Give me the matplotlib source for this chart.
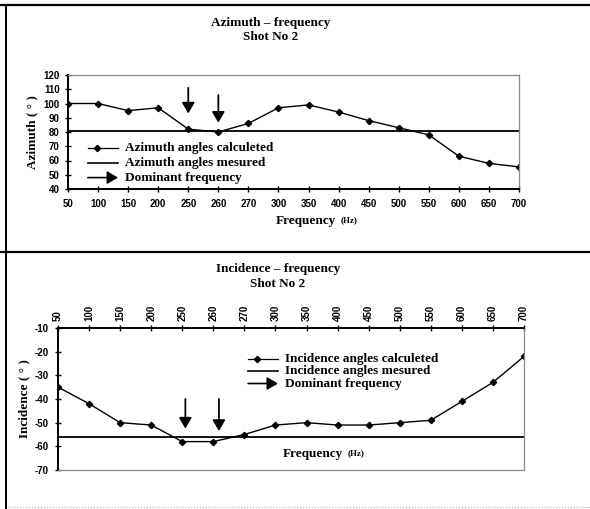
import matplotlib
matplotlib.use("Agg")
import matplotlib.pyplot as plt
from matplotlib.lines import Line2D

plt.rcParams["axes.unicode_minus"] = False

# data
freq_labels = ["50", "100", "150", "200", "250", "260", "270", "300",
               "350", "400", "450", "500", "550", "600", "650", "700"]
azimuth_calc = [100, 100, 95, 97, 82, 80, 86, 97, 99, 94, 88, 83, 78, 63, 58, 55.5]
azimuth_measured = 81
incidence_calc = [-35, -42, -50, -51, -58, -58, -55, -51, -50, -51, -51, -50, -49, -41, -33, -22]
incidence_measured = -56

# dominant frequency arrows (category index, start, tip)
az_arrow_x = [4, 5]
az_arrow_top = [111, 106]
az_arrow_tip = [93, 86.5]
inc_arrow_x = [4.1, 5.18]
inc_arrow_top = [-40, -40]
inc_arrow_tip = [-52.5, -53.5]

SERIF = "Liberation Serif"
SANS = "Liberation Sans"
W, H = 590, 509


def px_box(left, top, right, bottom):
    return [left / W, 1 - bottom / H, (right - left) / W, (bottom - top) / H]


def fig_line(fig, x0, y0, x1, y1, **kw):
    fig.add_artist(Line2D([x0 / W, x1 / W], [1 - y0 / H, 1 - y1 / H],
                          transform=fig.transFigure, **kw))


def fig_text(fig, x, y, s, **kw):
    fig.text(x / W, 1 - y / H, s, family=SERIF, weight="bold", **kw)


def style_axis(ax, gray_sides, black_sides):
    for side in gray_sides:
        ax.spines[side].set_color("#8a8a8a")
        ax.spines[side].set_linewidth(0.9)
    for side in black_sides:
        ax.spines[side].set_color("black")
        ax.spines[side].set_linewidth(1.4)
    for lab in ax.get_xticklabels() + ax.get_yticklabels():
        lab.set_family(SANS)
        lab.set_fontsize(7)
        lab.set_weight("bold")


def draw_arrows(ax, xs, tops, tips):
    for x, y0, y1 in zip(xs, tops, tips):
        ax.annotate("", xy=(x, y1), xytext=(x, y0),
                    arrowprops=dict(arrowstyle="-|>,head_length=0.65,head_width=0.38",
                                    color="black", lw=1.3, shrinkA=0, shrinkB=0))


def draw_legend(ax, x0, x1, ys, labels):
    # calculated: line with marker
    ax.plot([x0, x1], [ys[0], ys[0]], color="black", lw=0.9, transform=ax.transAxes,
            clip_on=False)
    ax.plot([x0 + (x1 - x0) * 0.3], [ys[0]], marker="D", ms=3.2, color="black",
            transform=ax.transAxes, clip_on=False)
    # measured: plain line
    ax.plot([x0, x1], [ys[1], ys[1]], color="black", lw=1.2, transform=ax.transAxes,
            clip_on=False)
    # dominant frequency: arrow
    ax.annotate("", xy=(x1, ys[2]), xytext=(x0, ys[2]), xycoords="axes fraction",
                arrowprops=dict(arrowstyle="-|>,head_length=0.65,head_width=0.38",
                                color="black", lw=1.2, shrinkA=0, shrinkB=0))
    for y, lab in zip(ys, labels):
        ax.text(x1 + 0.015, y, lab, transform=ax.transAxes, family=SERIF,
                weight="bold", fontsize=9.5, va="center", ha="left")


def freq_label(ax, x, y, transform):
    t = ax.text(x, y, "Frequency", transform=transform, family=SERIF,
                weight="bold", fontsize=9.5, va="center", ha="left")
    ax.annotate("(Hz)", xy=(1, 0.2), xycoords=t, xytext=(3, 0),
                textcoords="offset points", family=SERIF, weight="bold",
                fontsize=6.5, va="bottom", ha="left")


pos = list(range(len(freq_labels)))

fig = plt.figure(figsize=(W / 100, H / 100), dpi=100)

# outer frame of the scanned page
fig_line(fig, 0, 5, W, 5, color="black", lw=1.6)
fig_line(fig, 6, 5, 6, H, color="black", lw=1.4)
fig_line(fig, 0, 252, W, 252, color="black", lw=1.6)
fig_line(fig, 8, 507, W, 507, color="#b0b0b0", lw=0.8, ls=":")

# ---- azimuth panel ----
ax1 = fig.add_axes(px_box(68, 75, 519, 189))
ax1.plot(pos, azimuth_calc, color="black", lw=1.0, marker="D", ms=3.2)
ax1.axhline(azimuth_measured, color="black", lw=1.3)
draw_arrows(ax1, az_arrow_x, az_arrow_top, az_arrow_tip)
ax1.set_xlim(0, len(freq_labels) - 1)
ax1.set_ylim(40, 120)
ax1.set_yticks(range(40, 121, 10))
ax1.set_xticks(pos)
ax1.set_xticklabels(freq_labels)
ax1.tick_params(axis="both", direction="inout", length=4, width=1, color="black")
ax1.tick_params(axis="x", pad=5)
ax1.tick_params(axis="y", pad=4)
style_axis(ax1, ["top", "right"], ["left", "bottom"])
draw_legend(ax1, 0.044, 0.111, [0.36, 0.232, 0.10],
            ["Azimuth angles calculeted", "Azimuth angles mesured", "Dominant frequency"])
ax1.set_ylabel("Azimuth ( ° )", family=SERIF, weight="bold", fontsize=9.5, labelpad=4)

fig_text(fig, 271, 23, "Azimuth – frequency", fontsize=9.5, ha="center", va="center")
fig_text(fig, 271, 37, "Shot No 2", fontsize=9.5, ha="center", va="center")
freq_label(ax1, 276 / W, 1 - 221 / H, fig.transFigure)

# ---- incidence panel ----
ax2 = fig.add_axes(px_box(58, 328, 524, 470))
ax2.plot(pos, incidence_calc, color="black", lw=1.0, marker="D", ms=3.2)
ax2.axhline(incidence_measured, color="black", lw=1.3)
draw_arrows(ax2, inc_arrow_x, inc_arrow_top, inc_arrow_tip)
ax2.set_xlim(0, len(freq_labels) - 1)
ax2.set_ylim(-70, -10)
ax2.set_yticks(range(-70, -9, 10))
ax2.set_xticks(pos)
ax2.set_xticklabels(freq_labels, rotation=90)
ax2.xaxis.tick_top()
ax2.tick_params(axis="both", direction="inout", length=4, width=1, color="black")
ax2.tick_params(axis="x", pad=3)
ax2.tick_params(axis="y", pad=5)
style_axis(ax2, ["bottom", "right"], ["left", "top"])
draw_legend(ax2, 0.408, 0.472, [0.785, 0.697, 0.609],
            ["Incidence angles calculeted", "Incidence angles mesured", "Dominant frequency"])
ax2.set_ylabel("Incidence ( ° )", family=SERIF, weight="bold", fontsize=9.5, labelpad=3)
freq_label(ax2, 0.483, 0.113, ax2.transAxes)

fig_text(fig, 278, 269, "Incidence – frequency", fontsize=9.5, ha="center", va="center")
fig_text(fig, 278, 284, "Shot No 2", fontsize=9.5, ha="center", va="center")

fig.savefig("out.png", dpi=100, facecolor="white")
